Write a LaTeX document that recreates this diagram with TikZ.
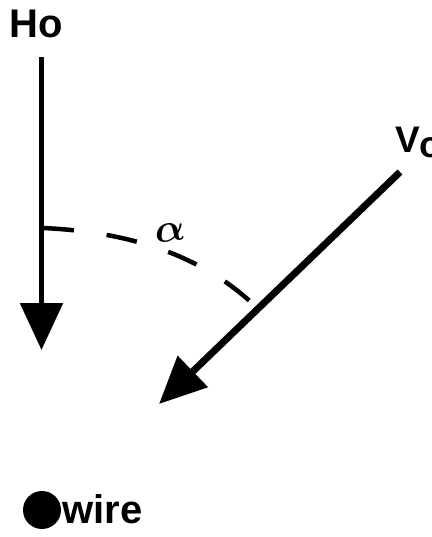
\documentclass[tikz,border=0pt]{standalone}
\usepackage{amsmath}
\usepackage{fontspec}
\setmainfont{Liberation Sans}
\usetikzlibrary{arrows.meta}
\tikzset{
  vec/.style={line width=#1, -{Triangle[length=47pt,width=42pt]}},
  angarc/.style={line width=4.5pt, dash pattern=on 31pt off 33pt},
  lbl/.style={inner sep=0pt, anchor=base west, font=\bfseries\fontsize{40}{44}\selectfont},
  greek/.style={inner sep=0pt, rotate=8},
}
\begin{document}
\begin{tikzpicture}[x=1pt,y=-1pt]
\useasboundingbox (0,0) rectangle (431,537);
% labels
\node[lbl] (hlabel) at (9.5,38) {Ho};
\node[lbl, font=\bfseries\fontsize{37}{40}\selectfont] (vlabel) at (395,153) {V\raisebox{-5pt}{o}};
% vectors
\coordinate (hstart) at (41.5,57);
\coordinate (htip) at (41.5,350);
\draw[vec=5.5pt] (hstart) -- (htip);
\coordinate (vstart) at (400,172);
\coordinate (vtip) at (159,404);
\draw[vec=7pt] (vstart) -- (vtip);
% angle
\coordinate (arcA) at (43,228);
\coordinate (arcB) at (253,304);
\draw[angarc] (arcA) .. controls (130,232) and (200,255) .. (arcB);
\node[greek] (anglbl) at (170,233) {\scalebox{4}{$\boldsymbol{\alpha}$}};
% legend
\node[circle, fill=black, minimum size=38pt, inner sep=0pt] (wiredot) at (42,510) {};
\node[lbl] (wire) at (62,523) {wire};
\end{tikzpicture}
\end{document}
